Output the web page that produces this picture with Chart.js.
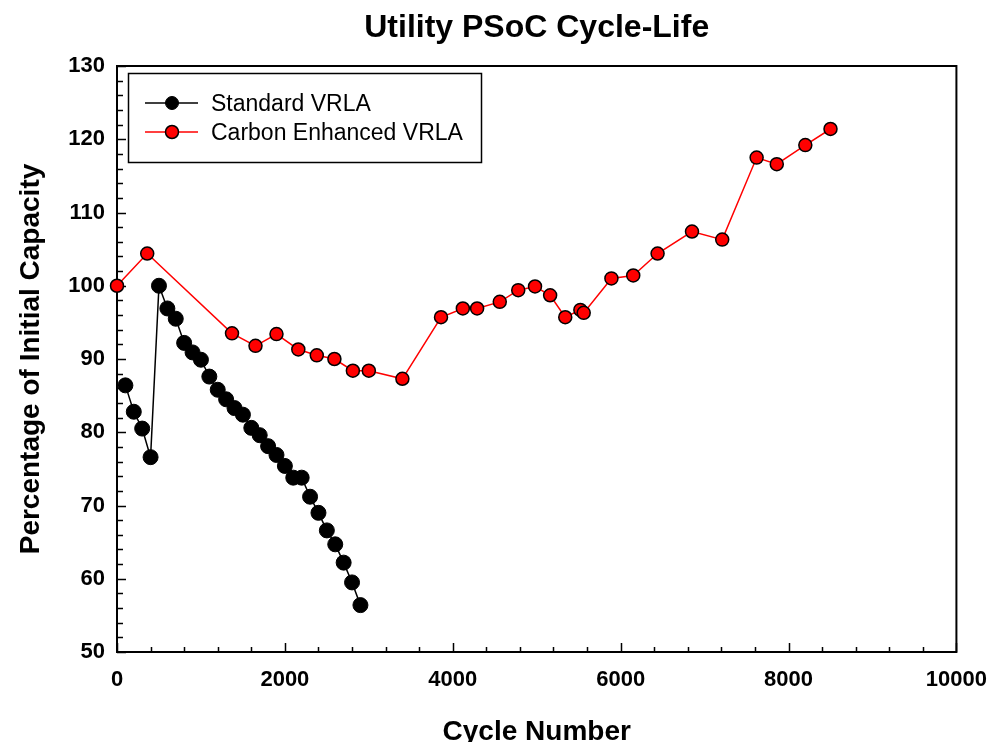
<!DOCTYPE html>
<html>
<head>
<meta charset="utf-8">
<script src="https://cdn.jsdelivr.net/npm/chart.js@4"></script>
<style>
  html, body { margin: 0; padding: 0; background: #fff; }
  #wrap { width: 1002px; height: 742px; }
</style>
</head>
<body>
<div id="wrap"><canvas id="chartCycleLife"></canvas></div>
<script>
// Datos
const chartTitle = 'Utility PSoC Cycle-Life';
const seriesNames = ['Standard VRLA', 'Carbon Enhanced VRLA'];

const cyclesStandard = [100, 200, 300, 400, 500, 600, 700, 800, 900, 1000, 1100, 1200, 1300, 1400, 1500,
    1600, 1700, 1800, 1900, 2000, 2100, 2200, 2300, 2400, 2500, 2600, 2700, 2800, 2900];
const capacityStandard = [86.4, 82.8, 80.5, 76.6, 100.0, 96.9, 95.5, 92.2, 90.9, 89.9, 87.6, 85.8, 84.5, 83.3, 82.4,
    80.6, 79.6, 78.1, 76.9, 75.4, 73.8, 73.8, 71.2, 69.0, 66.6, 64.7, 62.2, 59.5, 56.4];

const cyclesCarbon = [0, 360, 1370, 1650, 1900, 2160, 2380, 2590, 2810, 3000, 3400, 3860, 4120, 4290, 4560,
    4780, 4980, 5160, 5340, 5520, 5560, 5890, 6150, 6440, 6850, 7210, 7620, 7860, 8200, 8500];
const capacityCarbon = [100.0, 104.4, 93.5, 91.8, 93.4, 91.3, 90.5, 90.0, 88.4, 88.4, 87.3, 95.7, 96.9, 96.9, 97.8,
    99.4, 99.9, 98.7, 95.7, 96.7, 96.3, 101.0, 101.4, 104.4, 107.4, 106.3, 117.5, 116.6, 119.2, 121.4];

const xTicks = [0, 2000, 4000, 6000, 8000, 10000];
const yTicks = [50, 60, 70, 80, 90, 100, 110, 120, 130];

const FONT = 'Arial, "Liberation Sans", sans-serif';

const toPoints = (xs, ys) => xs.map((x, i) => ({ x: x, y: ys[i] }));

// Título centrado sobre el área del gráfico
const titlePlugin = {
    id: 'plotTitle',
    afterDraw(chart) {
        const { ctx, chartArea: a } = chart;
        ctx.save();
        ctx.fillStyle = '#000';
        ctx.font = 'bold 32px ' + FONT;
        ctx.textAlign = 'center';
        ctx.textBaseline = 'alphabetic';
        ctx.fillText(chartTitle, (a.left + a.right) / 2, 37);
        ctx.restore();
    }
};

// Marco y marcas hacia dentro
const framePlugin = {
    id: 'frame',
    beforeDatasetsDraw(chart) {
        const { ctx, chartArea: a, scales } = chart;
        ctx.save();
        ctx.strokeStyle = '#000';
        ctx.lineWidth = 2;
        ctx.strokeRect(a.left, a.top, a.right - a.left, a.bottom - a.top);
        ctx.lineWidth = 1.5;
        ctx.beginPath();
        const xMin = xTicks[0], xMax = xTicks[xTicks.length - 1];
        for (let v = xMin; v <= xMax; v += 400) {
            const px = Math.round(scales.x.getPixelForValue(v)) + 0.5;
            const len = v % 2000 === 0 ? 9 : 5;
            ctx.moveTo(px, a.bottom);
            ctx.lineTo(px, a.bottom - len);
        }
        const yMin = yTicks[0], yMax = yTicks[yTicks.length - 1];
        for (let v = yMin; v <= yMax; v += 2) {
            const py = Math.round(scales.y.getPixelForValue(v)) + 0.5;
            const len = v % 10 === 0 ? 9 : 6;
            ctx.moveTo(a.left, py);
            ctx.lineTo(a.left + len, py);
        }
        ctx.stroke();
        ctx.restore();
    }
};

// Leyenda con recuadro
const legendBoxPlugin = {
    id: 'legendBox',
    afterDraw(chart) {
        const { ctx } = chart;
        ctx.save();
        ctx.strokeStyle = '#000';
        ctx.lineWidth = 1.5;
        ctx.strokeRect(128.5, 73.5, 353, 89);
        chart.data.datasets.forEach((ds, i) => {
            const yy = 103 + i * 29;
            ctx.strokeStyle = ds.borderColor;
            ctx.lineWidth = 1.5;
            ctx.beginPath();
            ctx.moveTo(145, yy);
            ctx.lineTo(198, yy);
            ctx.stroke();
            ctx.beginPath();
            ctx.arc(172, yy, 6.5, 0, Math.PI * 2);
            ctx.fillStyle = ds.pointBackgroundColor;
            ctx.fill();
            ctx.strokeStyle = ds.pointBorderColor;
            ctx.lineWidth = ds.pointBorderWidth;
            ctx.stroke();
            ctx.fillStyle = '#000';
            ctx.font = '23px ' + FONT;
            ctx.textBaseline = 'middle';
            ctx.textAlign = 'left';
            ctx.fillText(ds.label, 211, yy + 1.5);
        });
        ctx.restore();
    }
};

const ctx = document.getElementById('chartCycleLife');
new Chart(ctx, {
    type: 'scatter',
    data: {
        datasets: [
            {
                label: seriesNames[0],
                data: toPoints(cyclesStandard, capacityStandard),
                showLine: true,
                borderColor: '#000000',
                borderWidth: 1.5,
                pointRadius: 7.5,
                pointBackgroundColor: '#000000',
                pointBorderColor: '#000000',
                pointBorderWidth: 1,
                clip: false
            },
            {
                label: seriesNames[1],
                data: toPoints(cyclesCarbon, capacityCarbon),
                showLine: true,
                borderColor: '#ff0000',
                borderWidth: 1.5,
                pointRadius: 6.5,
                pointBackgroundColor: '#ff0000',
                pointBorderColor: '#000000',
                pointBorderWidth: 1.5,
                clip: false
            }
        ]
    },
    options: {
        responsive: true,
        maintainAspectRatio: false,
        animation: false,
        layout: { padding: { left: 0, right: 45, top: 66, bottom: 0 } },
        plugins: {
            legend: { display: false },
            tooltip: { enabled: false },
            title: { display: false }
        },
        scales: {
            x: {
                type: 'linear',
                min: 0,
                max: 10000,
                border: { display: false },
                grid: { display: false, drawTicks: false },
                afterFit(scale) { scale.height = 90; },
                ticks: {
                    stepSize: 2000,
                    padding: 15,
                    color: '#000',
                    maxRotation: 0,
                    font: { family: FONT, size: 22, weight: 'bold' },
                    callback: (v) => String(v)
                },
                title: {
                    display: true,
                    text: 'Cycle Number',
                    color: '#000',
                    font: { family: FONT, size: 28, weight: 'bold' },
                    padding: { top: 0, bottom: -7 }
                }
            },
            y: {
                type: 'linear',
                min: 50,
                max: 130,
                border: { display: false },
                grid: { display: false, drawTicks: false },
                afterFit(scale) { scale.width = 117; },
                ticks: {
                    stepSize: 10,
                    padding: 12,
                    color: '#000',
                    font: { family: FONT, size: 22, weight: 'bold' }
                },
                title: {
                    display: true,
                    text: 'Percentage of Initial Capacity',
                    color: '#000',
                    font: { family: FONT, size: 28, weight: 'bold' },
                    padding: { top: 14, bottom: 0 }
                }
            }
        }
    },
    plugins: [framePlugin, legendBoxPlugin, titlePlugin]
});
</script>
</body>
</html>
